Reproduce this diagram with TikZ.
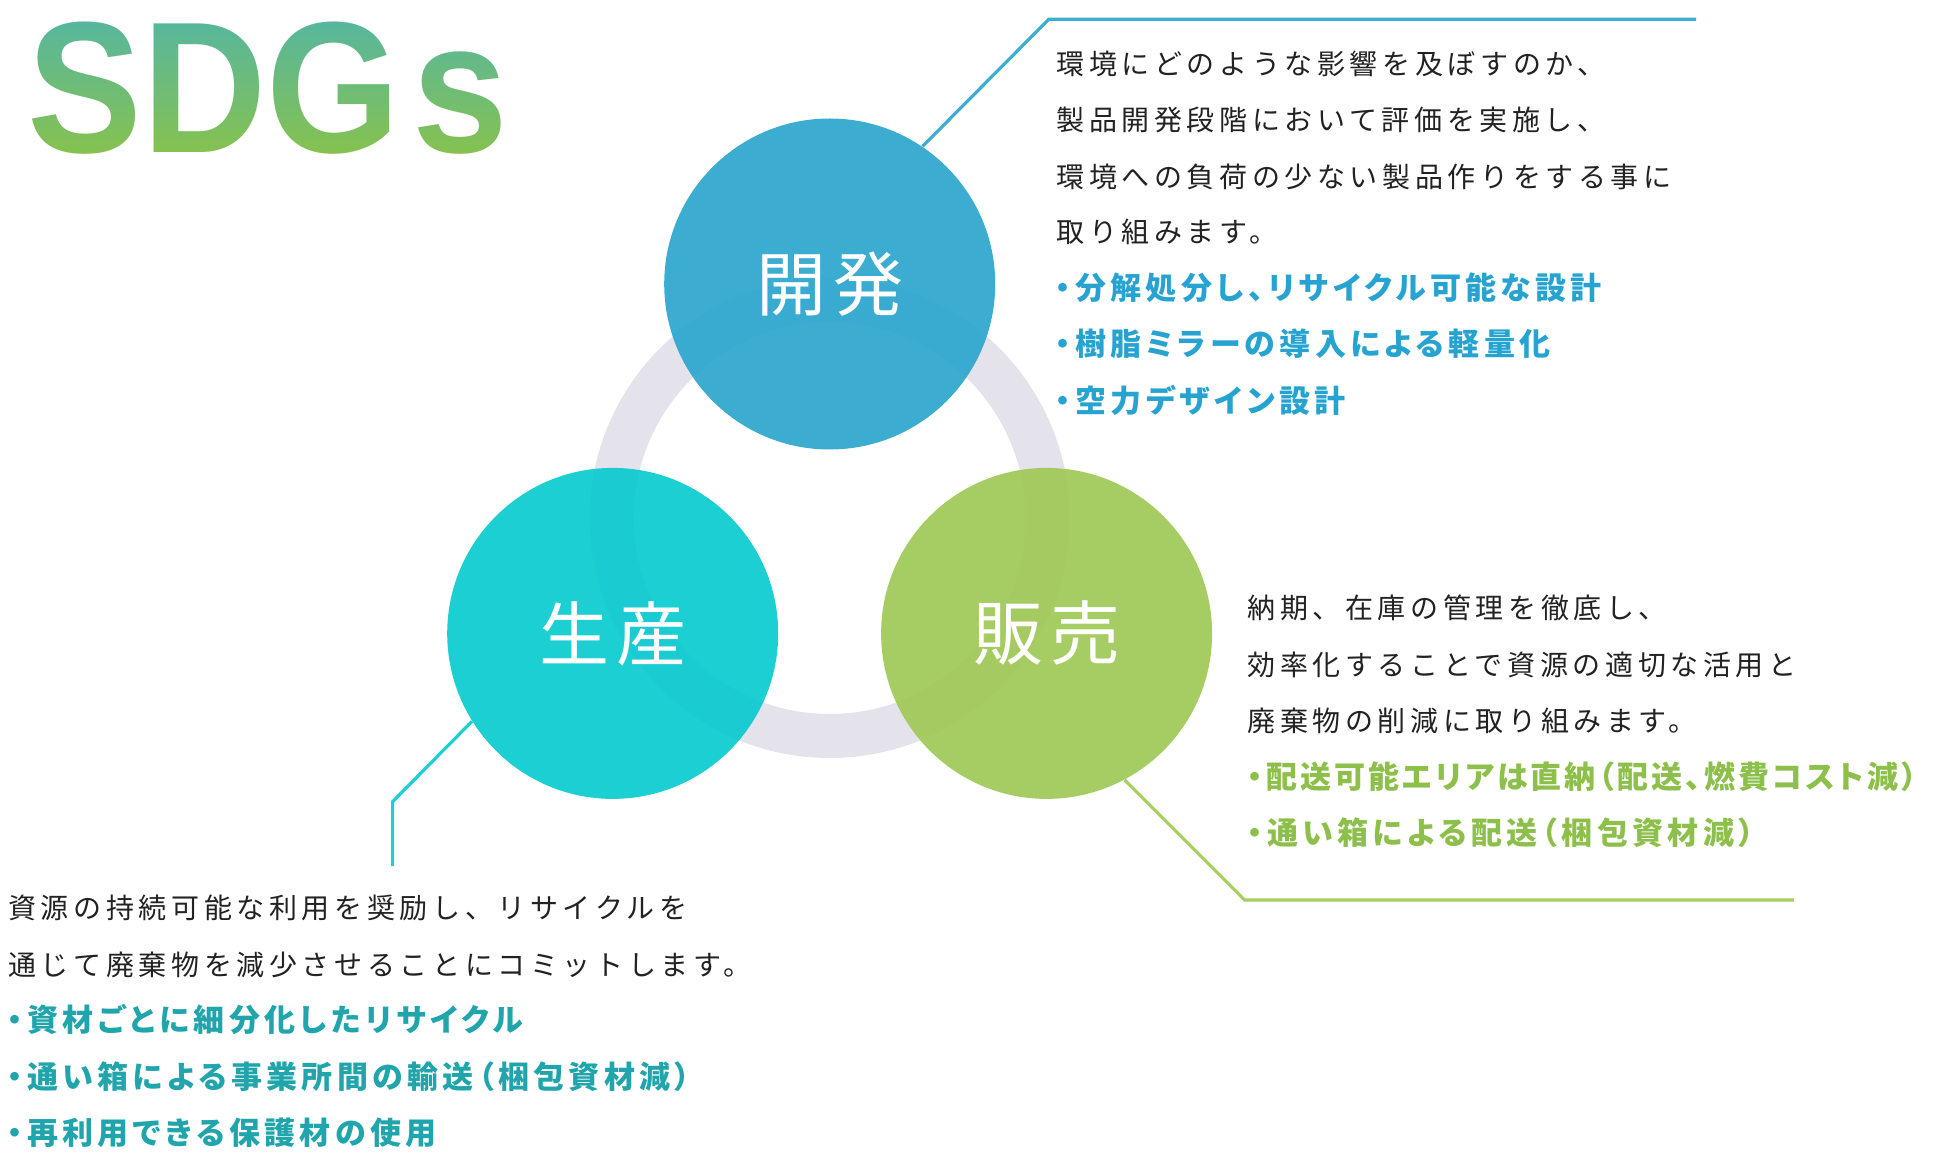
\documentclass[tikz,border=0pt]{standalone}
\usepackage{fontspec}
\setmainfont{Liberation Sans}
\newfontfamily\jpbody{Noto Sans CJK JP}[LetterSpace=16.5]
\newfontfamily\jpbold{Noto Sans CJK JP}[LetterSpace=14,CharacterWidth=AlternateProportional]
\newfontfamily\jpboldtight{Noto Sans CJK JP}[LetterSpace=10,CharacterWidth=AlternateProportional]
\newfontfamily\jplabel{Noto Sans CJK JP}[LetterSpace=10]
\definecolor{ink}{HTML}{222222}
\definecolor{ringc}{HTML}{E4E2EA}
\definecolor{kaic}{HTML}{2CA7CE}
\definecolor{seic}{HTML}{09CBD0}
\definecolor{hanc}{HTML}{9FC956}
\definecolor{kail}{HTML}{3DAED2}
\definecolor{seil}{HTML}{1DCFD4}
\definecolor{hanl}{HTML}{A7CD64}
\definecolor{kait}{HTML}{26A3D0}
\definecolor{seit}{HTML}{1FA5AB}
\definecolor{hant}{HTML}{8CC04A}
\definecolor{sdgtop}{HTML}{52B5A5}
\definecolor{sdgbot}{HTML}{8BC347}
\tikzset{
  body/.style={anchor=base west, inner sep=0pt, text=ink, font=\jpbody\fontsize{14pt}{14pt}\selectfont},
  bul/.style={anchor=base west, inner sep=0pt, font=\jpbold\bfseries\fontsize{15.5pt}{15.5pt}\selectfont},
  bultight/.style={anchor=base west, inner sep=0pt, font=\jpboldtight\bfseries\fontsize{15.5pt}{15.5pt}\selectfont},
  bubble/.style={circle, inner sep=0pt, minimum size=165.5pt, fill opacity=0.92, text opacity=1, text=white, font=\jplabel\fontsize{35pt}{35pt}\selectfont},
  leader/.style={line width=1.6pt},
}
\begin{document}
\begin{tikzpicture}[x=0.5pt,y=-0.5pt]
\fill[white] (0,0) rectangle (1936,1176);
\useasboundingbox (0,0) rectangle (1936,1176);
% title
\node[anchor=base west, inner sep=0pt, xscale=0.92, text=black, font=\bfseries\fontsize{93.5pt}{93.5pt}\selectfont] (sdgs) at (27,153) {SDG\kern6.5pt s};
\begin{scope}[blend mode=screen]
\shade[top color=sdgtop, bottom color=sdgbot] (15,8) rectangle (520,168);
\end{scope}
% ring
\coordinate (ringc) at (829.7,518);
\draw[ringc, line width=22pt] (ringc) circle[radius=218];
% circles
\node[bubble, fill=kaic] (kai) at (829.7,284) {開発};
\node[bubble, fill=seic] (sei) at (612.7,633.4) {生産};
\node[bubble, fill=hanc] (han) at (1046.6,633.4) {販売};
% leaders
\coordinate (k1) at (1048.7,19.3);
\coordinate (k2) at (1696,19.3);
\draw[leader, kail] (kai.56) -- (k1) -- (k2);
\coordinate (s1) at (392.6,801.7);
\coordinate (s2) at (392.6,866);
\draw[leader, seil] (sei.212) -- (s1) -- (s2);
\coordinate (h1) at (1244.6,900);
\coordinate (h2) at (1794,900);
\draw[leader, hanl] (han.298.4) -- (h1) -- (h2);
% top block
\node[body] (ta) at (1056,74.6) {環境にどのような影響を及ぼすのか、};
\node[body] (tb) at (1056,130.6) {製品開発段階において評価を実施し、};
\node[body] (tc) at (1056,187.6) {環境への負荷の少ない製品作りをする事に};
\node[body] (td) at (1056,242.6) {取り組みます。};
\node[bul, text=kait] (te) at (1055,299.8) {・分解処分し、リサイクル可能な設計};
\node[bul, text=kait] (tf) at (1055,355.8) {・樹脂ミラーの導入による軽量化};
\node[bul, text=kait] (tg) at (1055,412.8) {・空力デザイン設計};
% right block
\node[body] (ra) at (1247,618.6) {納期、在庫の管理を徹底し、};
\node[body] (rb) at (1247,675.6) {効率化することで資源の適切な活用と};
\node[body] (rc) at (1247,731.6) {廃棄物の削減に取り組みます。};
\node[bultight, text=hant] (rd) at (1247,788.8) {・配送可能エリアは直納（配送、燃費コスト減）};
\node[bul, text=hant] (re) at (1247,844.8) {・通い箱による配送（梱包資材減）};
% left block
\node[body] (la) at (8,918.6) {資源の持続可能な利用を奨励し、リサイクルを};
\node[body] (lb) at (8,975.6) {通じて廃棄物を減少させることにコミットします。};
\node[bul, text=seit] (lc) at (7,1031.8) {・資材ごとに細分化したリサイクル};
\node[bul, text=seit] (ld) at (7,1088.8) {・通い箱による事業所間の輸送（梱包資材減）};
\node[bul, text=seit] (le) at (7,1144.8) {・再利用できる保護材の使用};
\end{tikzpicture}
\end{document}
